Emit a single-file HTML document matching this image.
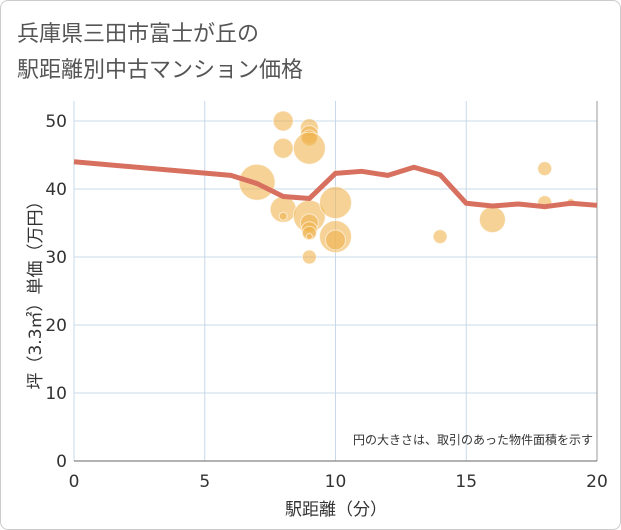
<!DOCTYPE html>
<html><head><meta charset="utf-8"><style>
body{margin:0;background:#fff;font-family:"Liberation Sans","Noto Sans CJK JP",sans-serif}
#wrap{position:relative;width:619px;height:528px;border:1px solid #ccc;border-radius:8px;overflow:hidden}
</style></head><body>
<div id="wrap">
<svg id="c" width="621" height="530"></svg>
</div>
<script>
const bubbleX=[7,8,8,8,8,9,9,9,9,9,9,9,9,9,9,10,10,10,10,13,14,16,18,18,19];
const bubbleY=[41,50,46,37,36,49,48,47.5,46,36,35,34,33.5,33,30,38,33,32.5,42.5,43,33,35.5,43,38,38];
const bubbleR=[18,10,10,13,4,9,9,8,16,16,9,8,7,3,7,16,16,10,2,2,7,13,7,7,4];
const lineX=[0,6,7,8,9,10,11,12,13,14,15,16,17,18,19,20];
const lineY=[44,42,40.8,38.9,38.6,42.3,42.6,42,43.2,42.1,37.9,37.5,37.8,37.4,37.9,37.6];
const xTicks=[0,5,10,15,20];
const yTicks=[0,10,20,30,40,50];
const NS="http://www.w3.org/2000/svg";
const svg=document.getElementById('c');
const X0=73,X1=596,Y0=460,Y1=120;
const sx=v=>X0+(X1-X0)*v/20, sy=v=>Y0-(Y0-Y1)*v/50;
const TF='"DejaVu Sans","Noto Sans CJK JP",sans-serif';
function mk(t,a,p){const e=document.createElementNS(NS,t);for(const k in a)e.setAttribute(k,a[k]);(p||svg).appendChild(e);return e;}
function txt(s,a){const e=mk('text',a);e.textContent=s;return e;}
let e;
e=mk('rect',{x:X0,y:100,width:X1-X0,height:Y0-100,fill:'#fff'});

xTicks.forEach(t=>{e=mk('line',{x1:sx(t),x2:sx(t),y1:100,y2:Y0,stroke:'#c8d8e8'});

e=txt(t,{x:sx(t),y:486,'text-anchor':'middle','font-size':17,fill:'#333','font-family':TF});
});
yTicks.forEach(t=>{e=mk('line',{x1:X0,x2:X1,y1:sy(t),y2:sy(t),stroke:'#c8d8e8'});

e=txt(t,{x:66,y:sy(t)+6,'text-anchor':'end','font-size':17,fill:'#333','font-family':TF});
});
e=mk('line',{x1:X1,x2:X1,y1:100,y2:Y0,stroke:'#999'});

e=mk('line',{x1:X0,x2:X1,y1:Y0,y2:Y0,stroke:'#666'});

bubbleX.forEach((x,i)=>{e=mk('circle',{cx:sx(x),cy:sy(bubbleY[i]),r:bubbleR[i],fill:'rgba(240,180,80,0.6)',stroke:'rgba(255,255,255,0.6)'});
});
e=mk('polyline',{points:lineX.map((x,i)=>sx(x)+','+sy(lineY[i])).join(' '),fill:'none',stroke:'#d87060','stroke-width':5,'stroke-linejoin':'round'});

e=txt('円の大きさは、取引のあった物件面積を示す',{x:592,y:443,'text-anchor':'end','font-size':12,fill:'#333'});

e=txt('駅距離（分）',{x:335,y:514,'text-anchor':'middle','font-size':17,fill:'#333','font-family':TF});

e=txt('坪（3.3㎡）単価（万円）',{x:0,y:0,'text-anchor':'middle','font-size':17,fill:'#333','font-family':TF,transform:'translate(40,290) rotate(-90)'});

e=txt('兵庫県三田市富士が丘の',{x:16,y:40,'font-size':22,fill:'#555'});

e=txt('駅距離別中古マンション価格',{x:16,y:76,'font-size':22,fill:'#555'});

</script>
</body></html>
